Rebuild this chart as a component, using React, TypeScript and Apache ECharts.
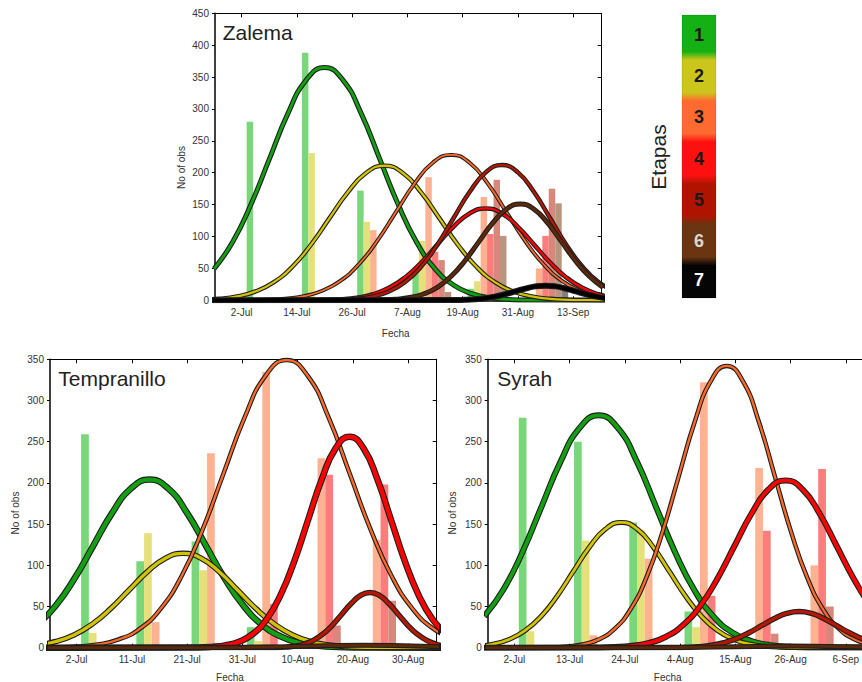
import { useEffect, useRef } from 'react';
import * as echarts from 'echarts';

const FONT = '"Liberation Sans", Arial, Helvetica, sans-serif';

const stageLabels = ['1', '2', '3', '4', '5', '6', '7'];

// ---------------- Zalema (x = days after 2-Jul) ----------------
const zalemaTicks = [0, 12, 24, 36, 48, 60, 72];
const zalemaTickLabels = ['2-Jul', '14-Jul', '26-Jul', '7-Aug', '19-Aug', '31-Aug', '13-Sep'];
const zalemaBinCenters = [6, 18, 30, 42, 54, 66];
const zalemaCounts = [
  [280, 388, 172, 47, 18, 0],
  [0, 231, 123, 93, 30, 0],
  [0, 0, 110, 193, 162, 50],
  [0, 0, 0, 76, 104, 101],
  [0, 0, 0, 63, 189, 175],
  [0, 0, 0, 13, 101, 152],
  [0, 0, 0, 0, 0, 24],
];
const zalemaCurve1 = [[-6, 49.4], [-2, 91.0], [2, 150.1], [6, 221.4], [10, 292.3], [14, 345.3], [18, 365], [22, 345.3], [26, 292.3], [30, 221.4], [34, 150.1], [38, 91.0], [42, 49.4], [46, 24.0], [50, 10.4], [54, 4.1], [58, 1.4], [62, 0.4], [80, 0]];
const zalemaCurve2 = [[-9, 0.8], [-5, 2.3], [-1, 6.0], [3, 13.9], [7, 28.5], [11, 52.6], [15, 86.7], [19, 128.0], [23, 168.9], [27, 199.6], [31, 211], [35, 199.6], [39, 168.9], [43, 128.0], [47, 86.7], [51, 52.6], [55, 28.5], [59, 13.9], [63, 6.0], [67, 2.3], [71, 0.8], [75, 0.3], [80, 0]];
const zalemaCurve3 = [[-8, 0], [1.5, 0.3], [5.5, 0.9], [9.5, 2.5], [13.5, 6.5], [17.5, 15.0], [21.5, 30.8], [25.5, 56.9], [29.5, 93.7], [33.5, 138.3], [37.5, 182.6], [41.5, 215.7], [45.5, 228], [49.5, 215.7], [53.5, 182.6], [57.5, 138.3], [61.5, 93.7], [65.5, 56.9], [69.5, 30.8], [73.5, 15.0], [77.5, 6.5], [81.5, 2.5]];
const zalemaCurve4 = [[-8, 0], [14.5, 0.2], [18, 0.6], [21.5, 1.6], [25, 4.1], [28.5, 9.5], [32, 19.5], [35.5, 35.9], [39, 59.2], [42.5, 87.3], [46, 115.3], [49.5, 136.2], [53, 144], [56.5, 136.2], [60, 115.3], [63.5, 87.3], [67, 59.2], [70.5, 35.9], [74, 19.5], [77.5, 9.5], [81, 4.1]];
const zalemaCurve5 = [[-8, 0], [18, 0.3], [21.5, 0.8], [25, 2.4], [28.5, 6.1], [32, 13.9], [35.5, 28.7], [39, 52.9], [42.5, 87.2], [46, 128.6], [49.5, 169.7], [53, 200.6], [56.5, 212], [60, 200.6], [63.5, 169.7], [67, 128.6], [70.5, 87.2], [74, 52.9], [77.5, 28.7], [81, 13.9]];
const zalemaCurve6 = [[-8, 0], [27.5, 0.2], [30.5, 0.6], [33.5, 1.7], [36.5, 4.3], [39.5, 9.9], [42.5, 20.4], [45.5, 37.7], [48.5, 62.1], [51.5, 91.6], [54.5, 120.9], [57.5, 142.8], [60.5, 151], [63.5, 142.8], [66.5, 120.9], [69.5, 91.6], [72.5, 62.1], [75.5, 37.7], [78.5, 20.4]];
const zalemaCurve7 = [[-8, 0], [46.2, 0.3], [48.4, 0.7], [50.6, 1.5], [52.8, 3.1], [55, 5.7], [57.2, 9.5], [59.4, 13.9], [61.6, 18.4], [63.8, 21.8], [66, 23], [68.2, 21.8], [70.4, 18.4], [72.6, 13.9], [74.8, 9.5], [77, 5.7], [79.2, 3.1]];

// ---------------- Tempranillo ----------------
const tempTicks = [0, 10, 20, 30, 40, 50, 60];
const tempTickLabels = ['2-Jul', '11-Jul', '21-Jul', '31-Jul', '10-Aug', '20-Aug', '30-Aug'];
const tempBinCenters = [5, 15, 25, 35, 45, 55];
const tempCounts = [
  [259, 105, 129, 25, 0, 0],
  [18, 139, 94, 8, 0, 0],
  [0, 31, 236, 335, 230, 131],
  [0, 0, 5, 53, 210, 198],
  [0, 0, 0, 0, 27, 57],
  [0, 0, 0, 0, 0, 0],
];
const tempCurve1 = [[-7.2, 27.6], [-3.8, 50.9], [-0.4, 83.9], [3, 123.7], [6.4, 163.3], [9.8, 193.0], [13.2, 204], [16.6, 193.0], [20, 163.3], [23.4, 123.7], [26.8, 83.9], [30.2, 50.9], [33.6, 27.6], [37, 13.4], [40.4, 5.8], [43.8, 2.3], [47.2, 0.8], [50.6, 0.3], [70, 0]];
const tempCurve2 = [[-7.1, 3.3], [-3.8, 7.5], [-0.5, 15.5], [2.8, 28.6], [6.1, 47.1], [9.4, 69.4], [12.7, 91.7], [16, 108.3], [19.3, 114.5], [22.6, 108.3], [25.9, 91.7], [29.2, 69.4], [32.5, 47.1], [35.8, 28.6], [39.1, 15.5], [42.4, 7.5], [45.7, 3.3], [49, 1.3], [52.3, 0.4], [70, 0]];
const tempCurve3 = [[-7.6, 0.1], [-3.8, 0.4], [0, 1.4], [3.8, 3.9], [7.6, 10.0], [11.4, 22.9], [15.2, 47.2], [19, 87.0], [22.8, 143.5], [26.6, 211.7], [30.4, 279.4], [34.2, 330.2], [38, 349], [41.8, 330.2], [45.6, 279.4], [49.4, 211.7], [53.2, 143.5], [57, 87.0], [60.8, 47.2], [64.6, 22.9], [68.4, 10.0]];
const tempCurve4 = [[-8, 0], [21.9, 0.3], [24.4, 1.0], [26.9, 2.8], [29.4, 7.3], [31.9, 16.8], [34.4, 34.6], [36.9, 63.8], [39.4, 105.2], [41.9, 155.3], [44.4, 205.0], [46.9, 242.2], [49.4, 256], [51.9, 242.2], [54.4, 205.0], [56.9, 155.3], [59.4, 105.2], [61.9, 63.8], [64.4, 34.6], [66.9, 16.8]];
const tempCurve5 = [[-8, 0], [36.1, 0.3], [37.8, 0.7], [39.5, 1.9], [41.2, 4.4], [42.9, 9.1], [44.6, 16.7], [46.3, 27.5], [48, 40.6], [49.7, 53.6], [51.4, 63.4], [53.1, 67], [54.8, 63.4], [56.5, 53.6], [58.2, 40.6], [59.9, 27.5], [61.6, 16.7], [63.3, 9.1], [65, 4.4], [66.7, 1.9]];
const tempCurve6 = [[-8, 0], [20, 0.1], [31, 0.5], [38, 1.2], [45, 2.4], [52, 3], [59, 2.4], [66, 1.2]];

// ---------------- Syrah ----------------
const syrahTicks = [0, 11, 22, 33, 44, 55, 66];
const syrahTickLabels = ['2-Jul', '13-Jul', '24-Jul', '4-Aug', '15-Aug', '26-Aug', '6-Sep'];
const syrahBinCenters = [5.5, 16.5, 27.5, 38.5, 49.5, 60.5];
const syrahCounts = [
  [279, 250, 152, 44, 0, 0],
  [20, 130, 143, 25, 0, 0],
  [0, 15, 108, 322, 218, 100],
  [0, 0, 0, 63, 142, 217],
  [0, 0, 0, 0, 17, 50],
  [0, 0, 0, 0, 0, 0],
];
const syrahCurve1 = [[-6, 38.2], [-2.2, 70.3], [1.6, 115.9], [5.4, 171.0], [9.2, 225.8], [13, 266.8], [16.8, 282], [20.6, 266.8], [24.4, 225.8], [28.2, 171.0], [32, 115.9], [35.8, 70.3], [39.6, 38.2], [43.4, 18.5], [47.2, 8.1], [51, 3.1], [54.8, 1.1], [58.6, 0.3], [75, 0]];
const syrahCurve2 = [[-7.5, 1.7], [-4.3, 4.3], [-1.1, 10.0], [2.1, 20.6], [5.3, 37.9], [8.5, 62.5], [11.7, 92.2], [14.9, 121.7], [18.1, 143.8], [21.3, 152], [24.5, 143.8], [27.7, 121.7], [30.9, 92.2], [34.1, 62.5], [37.3, 37.9], [40.5, 20.6], [43.7, 10.0], [46.9, 4.3], [50.1, 1.7], [53.3, 0.6], [56.5, 0.2], [75, 0]];
const syrahCurve3 = [[-8, 0], [7.1, 0.4], [10.3, 1.3], [13.5, 3.8], [16.7, 9.8], [19.9, 22.5], [23.1, 46.3], [26.3, 85.3], [29.5, 140.6], [32.7, 207.4], [35.9, 273.8], [39.1, 323.5], [42.3, 342], [45.5, 323.5], [48.7, 273.8], [51.9, 207.4], [55.1, 140.6], [58.3, 85.3], [61.5, 46.3], [64.7, 22.5], [67.9, 9.8], [71.1, 3.8], [74.3, 1.3]];
const syrahCurve4 = [[-8, 0], [16.6, 0.3], [20, 0.8], [23.4, 2.3], [26.8, 5.8], [30.2, 13.3], [33.6, 27.5], [37, 50.6], [40.4, 83.5], [43.8, 123.1], [47.2, 162.5], [50.6, 192.0], [54, 203], [57.4, 192.0], [60.8, 162.5], [64.2, 123.1], [67.6, 83.5], [71, 50.6], [74.4, 27.5]];
const syrahCurve5 = [[-8, 0], [31.7, 0.2], [34.2, 0.5], [36.7, 1.3], [39.2, 2.9], [41.7, 6.0], [44.2, 11.0], [46.7, 18.1], [49.2, 26.7], [51.7, 35.2], [54.2, 41.6], [56.7, 44], [59.2, 41.6], [61.7, 35.2], [64.2, 26.7], [66.7, 18.1], [69.2, 11.0], [71.7, 6.0], [74.2, 2.9]];
const syrahCurve6 = [[-8, 0], [30, 0.2], [40, 0.8], [48, 1.6], [55, 2], [62, 1.6], [70, 0.8], [76, 0.4]];

// ---------------- styles ----------------
const curveColors = ['#12a012', '#d2c300', '#ff6a28', '#ff0000', '#b41800', '#5c2a0a', '#000000'];
const barColors = ['#7ad67a', '#e6e07a', '#ffb292', '#ff7c7c', '#d8877c', '#b8957f', '#828282'];
const legendColors = ['#14b014', '#ccc61c', '#ff6a30', '#ff1010', '#b01400', '#6a3510', '#050505'];
const legendTextColors = ['#1a1a1a', '#1a1a1a', '#1a1a1a', '#1a1a1a', '#1a1a1a', '#d8d8d8', '#ffffff'];

const panels = [
  {
    name: 'Zalema', ticks: zalemaTicks, tickLabels: zalemaTickLabels, bins: zalemaBinCenters, counts: zalemaCounts,
    curves: [zalemaCurve1, zalemaCurve2, zalemaCurve3, zalemaCurve4, zalemaCurve5, zalemaCurve6, zalemaCurve7],
    ymax: 450, xmin: -5.8, xmax: 78.2,
    grid: { left: 215, top: 13.3, width: 386.7, height: 287 }, catGap: '18%',
    widths: [5, 4.5, 4, 4.5, 4.5, 5, 6],
    title: [222.7, 32], yName: [181, 167.5], xName: [395.7, 333.5],
  },
  {
    name: 'Tempranillo', ticks: tempTicks, tickLabels: tempTickLabels, bins: tempBinCenters, counts: tempCounts,
    curves: [tempCurve1, tempCurve2, tempCurve3, tempCurve4, tempCurve5, tempCurve6],
    ymax: 350, xmin: -4.83, xmax: 65.17,
    grid: { left: 50, top: 359.3, width: 386.7, height: 288.4 }, catGap: '16%',
    widths: [6.5, 5.5, 4.5, 6.5, 5.5, 5],
    title: [58.3, 378.3], yName: [15, 513], xName: [230, 677.5],
  },
  {
    name: 'Syrah', ticks: syrahTicks, tickLabels: syrahTickLabels, bins: syrahBinCenters, counts: syrahCounts,
    curves: [syrahCurve1, syrahCurve2, syrahCurve3, syrahCurve4, syrahCurve5, syrahCurve6],
    ymax: 350, xmin: -5.31, xmax: 71.69,
    grid: { left: 487.7, top: 359.3, width: 386.7, height: 288.4 }, catGap: '16%',
    widths: [6, 5, 4.5, 6, 5.5, 5],
    title: [497.3, 378.3], yName: [452.7, 513], xName: [667.7, 677.5],
  },
];

function buildOption() {
  const grid: any[] = [];
  const xAxis: any[] = [];
  const yAxis: any[] = [];
  const series: any[] = [];
  const graphic: any[] = [];

  panels.forEach((p, i) => {
    grid.push({ ...p.grid, show: false, containLabel: false, outerBoundsMode: 'none' });
    const fmt = (v: number) => {
      const k = p.ticks.findIndex((t) => Math.abs(t - v) < 1e-6);
      return k >= 0 ? p.tickLabels[k] : '';
    };
    xAxis.push({
      type: 'value', gridIndex: i, position: 'bottom', min: p.xmin, max: p.xmax,
      axisLine: { show: true, onZero: false, lineStyle: { color: '#000', width: 1.5 } },
      axisTick: { show: true, inside: true, length: 4, customValues: p.ticks, lineStyle: { color: '#000' } },
      axisLabel: { show: true, customValues: p.ticks, formatter: fmt, color: '#333', fontSize: 10, fontFamily: FONT, margin: 7 },
      splitLine: { show: false },
    });
    xAxis.push({
      type: 'value', gridIndex: i, position: 'top', min: p.xmin, max: p.xmax,
      axisLine: { show: true, onZero: false, lineStyle: { color: '#000', width: 1 } },
      axisTick: { show: true, inside: true, length: 4, customValues: p.ticks, lineStyle: { color: '#000' } },
      axisLabel: { show: false },
      splitLine: { show: false },
    });
    yAxis.push({
      type: 'value', gridIndex: i, position: 'left', min: 0, max: p.ymax, interval: 50,
      axisLine: { show: true, onZero: false, lineStyle: { color: '#000', width: 1.5 } },
      axisTick: { show: true, inside: false, length: 3, lineStyle: { color: '#000' } },
      axisLabel: { color: '#333', fontSize: 10, fontFamily: FONT, margin: 6 },
      splitLine: { show: false },
    });
    yAxis.push({
      type: 'value', gridIndex: i, position: 'right', min: 0, max: p.ymax, interval: 50,
      axisLine: { show: true, onZero: false, lineStyle: { color: '#000', width: 1 } },
      axisTick: { show: true, inside: true, length: 4, lineStyle: { color: '#000' } },
      axisLabel: { show: false },
      splitLine: { show: false },
    });

    p.counts.forEach((row, s) => {
      series.push({
        type: 'bar', name: stageLabels[s], xAxisIndex: 2 * i, yAxisIndex: 2 * i,
        data: p.bins.map((b, j) => [b, row[j]]),
        itemStyle: { color: barColors[s] },
        barGap: '0%', barCategoryGap: p.catGap, z: 2, silent: true,
      });
    });
    p.curves.forEach((pts, s) => {
      const w = p.widths[s];
      series.push({
        type: 'line', xAxisIndex: 2 * i, yAxisIndex: 2 * i, data: pts, smooth: true,
        symbol: 'none', silent: true, z: 3,
        lineStyle: { color: '#1e1e1e', width: w },
      });
      series.push({
        type: 'line', xAxisIndex: 2 * i, yAxisIndex: 2 * i, data: pts, smooth: true,
        symbol: 'none', silent: true, z: 3,
        lineStyle: { color: curveColors[s], width: Math.max(w - 2.2, 1.5) },
      });
    });

    graphic.push({
      type: 'text', x: p.title[0], y: p.title[1], z: 100,
      style: { text: p.name, font: `21px ${FONT}`, fill: '#222', align: 'left', verticalAlign: 'middle' },
    });
    graphic.push({
      type: 'text', x: p.yName[0], y: p.yName[1], rotation: Math.PI / 2, z: 100,
      style: { text: 'No of obs', font: `10px ${FONT}`, fill: '#333', align: 'center', verticalAlign: 'middle' },
    });
    graphic.push({
      type: 'text', x: p.xName[0], y: p.xName[1], z: 100,
      style: { text: 'Fecha', font: `10px ${FONT}`, fill: '#333', align: 'center', verticalAlign: 'middle' },
    });
  });

  // Etapas colour bar
  const barTop = 15;
  const barH = 283;
  const bounds = [15, 55.8, 96.8, 137.8, 179.5, 220.3, 261.2, 298];
  const blend = 0.015;
  const stops: any[] = [];
  legendColors.forEach((c, k) => {
    const a = (bounds[k] - barTop) / barH;
    const b = (bounds[k + 1] - barTop) / barH;
    stops.push({ offset: k === 0 ? 0 : a + blend, color: c });
    stops.push({ offset: k === legendColors.length - 1 ? 1 : b - blend, color: c });
  });
  graphic.push({
    type: 'rect', z: 100,
    shape: { x: 682, y: barTop, width: 34, height: barH },
    style: { fill: new echarts.graphic.LinearGradient(0, 0, 0, 1, stops), stroke: 'rgba(0,0,0,0.12)', lineWidth: 1 },
  });
  stageLabels.forEach((t, k) => {
    graphic.push({
      type: 'text', x: 699, y: (bounds[k] + bounds[k + 1]) / 2, z: 101,
      style: { text: t, font: `bold 18px ${FONT}`, fill: legendTextColors[k], align: 'center', verticalAlign: 'middle' },
    });
  });
  graphic.push({
    type: 'text', x: 658, y: 157, rotation: Math.PI / 2, z: 100,
    style: { text: 'Etapas', font: `21px ${FONT}`, fill: '#222', align: 'center', verticalAlign: 'middle' },
  });

  return { animation: false, backgroundColor: '#fff', grid, xAxis, yAxis, series, graphic };
}

export default function App() {
  const ref = useRef<HTMLDivElement>(null);
  useEffect(() => {
    const chart = echarts.init(ref.current as HTMLDivElement, undefined, { renderer: 'svg' });
    chart.setOption(buildOption() as any);
    return () => chart.dispose();
  }, []);
  return (
    <div
      ref={ref}
      style={{ position: 'absolute', left: 0, top: 0, width: 862, height: 682, overflow: 'hidden', background: '#fff' }}
    />
  );
}
